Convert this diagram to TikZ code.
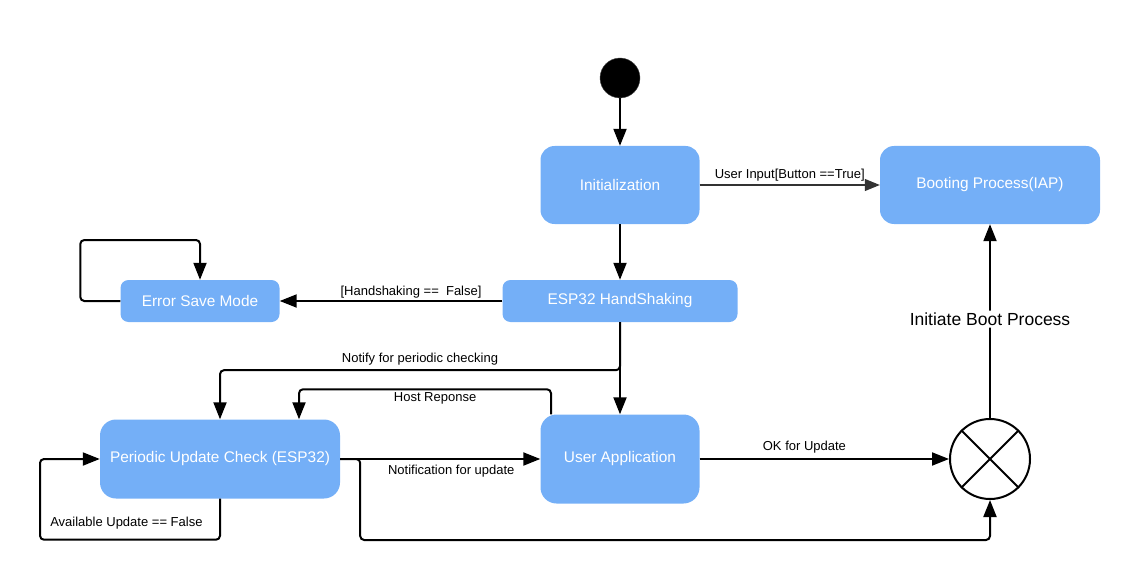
\documentclass[tikz,border=0pt]{standalone}
\usepackage{fontspec}
\setmainfont{Liberation Sans}
\usetikzlibrary{arrows.meta}
\definecolor{stateblue}{RGB}{116,175,247}

\begin{document}
\begin{tikzpicture}[
  x=1pt, y=-1pt,
  state/.style={fill=stateblue, text=white, inner sep=0pt, font=\fontsize{15.4}{18}\selectfont},
  flow/.style={line width=2pt, rounded corners=4pt, -{Triangle[length=17pt,width=13pt]}},
  guard/.style={font=\fontsize{13}{15}\selectfont, inner sep=1pt},
]
\useasboundingbox (0,0) rectangle (1147,580);
\node[circle, fill=black, draw=black!70, minimum size=40pt, inner sep=0pt] (start) at (620,78) {};
\node[state, rounded corners=14pt, minimum width=159pt, minimum height=78pt] (init) at (620,185) {Initialization};
\node[state, rounded corners=14pt, minimum width=220pt, minimum height=78pt] (boot) at (990,185) {Booting Process(IAP)};
\node[state, rounded corners=8pt, minimum width=235pt, minimum height=42pt] (hs) at (620,301) {ESP32 HandShaking};
\node[state, rounded corners=8pt, minimum width=159pt, minimum height=42pt] (err) at (200,301) {Error Save Mode};
\node[state, rounded corners=16pt, minimum width=240pt, minimum height=79pt] (check) at (220,459) {Periodic Update Check (ESP32)};
\node[state, rounded corners=16pt, minimum width=159pt, minimum height=89pt] (app) at (620,459) {User Application};
\node[circle, draw, line width=2pt, minimum size=80pt, inner sep=0pt] (merge) at (990,459) {};
\draw[line width=2pt] (merge.north west) -- (merge.south east) (merge.north east) -- (merge.south west);

\draw[flow] (start) -- (init);
\draw[line width=1.2pt, draw=black!80, -{Triangle[length=15pt,width=12pt]}] (init.east) -- node[guard, above=2pt] {User Input[Button ==True]} (boot.west);
\draw[flow] (init) -- (hs);
\draw[flow] (hs.west) -- node[guard, above=1pt, pos=0.41] {[Handshaking ==\ \ False]} (err.east);
\draw[flow] (err.west) -- ++(-40,0) -- ++(0,-61) -| (err.north);
\draw[flow] (hs) -- (app);
\draw[flow] (hs.south) -- ++(0,48) -| node[guard, above=3pt, pos=0.25] {Notify for periodic checking} (check.north);
\draw[flow] ([xshift=-69pt]app.north) -- ++(0,-25) -| node[guard, below=1pt, pos=0.23] {Host Reponse} ([xshift=79pt]check.north);
\draw[flow] (check.east) -- node[guard, below=4pt, pos=0.555] {Notification for update} (app.west);
\draw[flow] (check.south) -- ++(0,41) -- node[guard, above=9pt, pos=0.52] {Available Update == False} ++(-180,0) |- (check.west);
\draw[flow] (check.east) -- ++(20,0) -- ++(0,81) -| (merge.south);
\draw[flow] (app.east) -- node[guard, above=4pt, pos=0.42] {OK for Update} (merge.west);
\draw[flow] (merge.north) -- node[fill=white, inner sep=2pt, font=\fontsize{17.5}{20}\selectfont, pos=0.51] {Initiate Boot Process} (boot.south);
\end{tikzpicture}
\end{document}
